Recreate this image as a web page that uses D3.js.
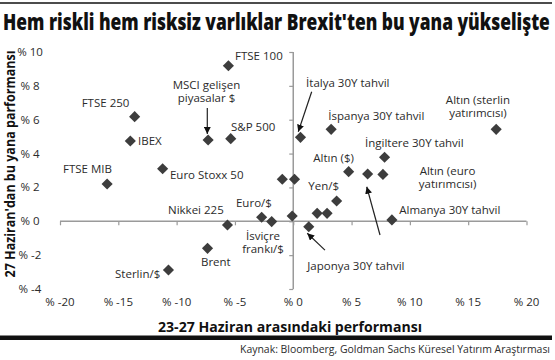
<!DOCTYPE html>
<html>
<head>
<meta charset="utf-8">
<script src="https://cdn.jsdelivr.net/npm/d3@7"></script>
<style>
  html, body { margin: 0; padding: 0; background: #fff; }
  svg { display: block; }
  text { font-family: "Open Sans", "Noto Sans", sans-serif; }
</style>
</head>
<body>
<svg id="chart" width="555" height="360"></svg>
<script>
// ---- Data ----
const names = ["FTSE 100", "FTSE 250", "IBEX", "MSCI gelişen piyasalar $", "S&P 500",
  "Euro Stoxx 50", "FTSE MIB", "İtalya 30Y tahvil", "İspanya 30Y tahvil", "Altın (sterlin yatırımcısı)",
  "İngiltere 30Y tahvil", "Altın ($)", "Altın (euro yatırımcısı)", "", "", "Yen/$", "", "", "", "",
  "Euro/$", "İsviçre frankı/$", "Japonya 30Y tahvil", "Almanya 30Y tahvil", "Nikkei 225", "Brent", "Sterlin/$"];
const xValues = [-5.56, -13.6, -13.97, -7.3, -5.36,
  -11.2, -15.96, 0.62, 3.25, 17.4,
  7.83, 4.75, 6.38, 7.69, -0.94, 0.11, 3.72, 2.05, 2.9, -0.09,
  -2.71, -1.85, 1.33, 8.46, -5.64, -7.35, -10.7];
const yValues = [9.19, 6.18, 4.74, 4.8, 4.88,
  3.1, 2.2, 4.96, 5.43, 5.43,
  3.78, 2.93, 2.79, 2.77, 2.48, 2.48, 1.2, 0.47, 0.47, 0.31,
  0.24, -0.02, -0.32, 0.08, -0.22, -1.6, -2.88];
const xTicks = [-20, -15, -10, -5, 0, 5, 10, 15, 20];
const yTicks = [-4, -2, 0, 2, 4, 6, 8, 10];
const xTickLabels = ["% -20", "% -15", "% -10", "% -5", "% 0", "% 5", "% 10", "% 15", "% 20"];
const yTickLabels = ["% -4", "% -2", "% 0", "% 2", "% 4", "% 6", "% 8", "% 10"];

// Annotation labels (one entry per text line, anchored in data units)
const labelText = ["FTSE 100", "MSCI gelişen", "piyasalar $", "FTSE 250", "IBEX", "S&P 500",
  "Euro Stoxx 50", "FTSE MIB", "İtalya 30Y tahvil", "İspanya 30Y tahvil", "Altın (sterlin", "yatırımcısı)",
  "İngiltere 30Y tahvil", "Altın ($)", "Altın (euro", "yatırımcısı)", "Yen/$", "Almanya 30Y tahvil",
  "Japonya 30Y tahvil", "Nikkei 225", "Euro/$", "İsviçre", "frankı/$", "Brent", "Sterlin/$"];
const labelX = [-4.99, -7.44, -7.44, -18.14, -13.31, -5.34,
  -10.57, -19.74, 1.10, 3.01, 15.84, 15.84,
  6.15, 1.72, 13.23, 13.23, 1.29, 9.09,
  1.20, -10.74, -4.91, -2.59, -2.59, -7.91, -15.28];
const labelY = [9.53, 7.84, 7.04, 6.77, 4.51, 5.35,
  2.50, 2.85, 7.95, 5.98, 6.94, 6.14,
  4.37, 3.52, 2.74, 1.94, 1.85, 0.43,
  -2.88, 0.41, 0.86, -1.10, -1.90, -2.64, -3.33];
const labelAnchor = ["start", "middle", "middle", "start", "start", "start",
  "start", "start", "start", "start", "middle", "middle",
  "start", "start", "middle", "middle", "start", "start",
  "start", "start", "start", "middle", "middle", "start", "start"];

// Arrows (data units): from -> to
const arrowX1 = [-7.37, 1.58, 2.72, 7.44];
const arrowY1 = [6.69, 7.65, -1.70, -0.81];
const arrowX2 = [-7.37, 0.43, 1.20, 6.30];
const arrowY2 = [5.16, 5.29, -0.71, 2.04];

const title = "Hem riskli hem risksiz varlıklar Brexit'ten bu yana yükselişte";
const xTitle = "23-27 Haziran arasındaki performansı";
const yTitle = "27 Haziran'dan bu yana parformansı";
const source = "Kaynak: Bloomberg, Goldman Sachs Küresel Yatırım Araştırması";

// ---- Drawing ----
const svg = d3.select("#chart");
const x = d3.scaleLinear().domain([-20, 20]).range([60, 526.5]);
const y = d3.scaleLinear().domain([-4, 10]).range([289, 52]);
const axisColor = "#9a9a9a";
const ink = "#2b2b2b";

// top rule
svg.append("line").attr("x1", 0).attr("x2", 552).attr("y1", 3).attr("y2", 3)
  .attr("stroke", "#111").attr("stroke-width", 1.5);

// title: fit to width, then stretch vertically to reach the reference cap height
const titleEl = svg.append("text").attr("x", 0).attr("y", 0)
  .attr("font-size", 18).attr("font-weight", 800).attr("fill", "#111")
  .text(title);
const tw = titleEl.node().getComputedTextLength();
const fs = 18 * 547 / tw;
titleEl.attr("font-size", fs)
  .attr("transform", `translate(3,30) scale(1,${(23 / fs).toFixed(3)})`);

// x axis at y=0
const xAxis = d3.axisBottom(x).tickValues(xTicks).tickSize(4).tickFormat("");
const gx = svg.append("g").attr("transform", `translate(0,${y(0)})`).call(xAxis);
gx.select(".domain").attr("stroke", axisColor).attr("stroke-width", 1.5).attr("d", `M${x(-20)},0H${x(20)}`);
gx.selectAll(".tick line").attr("stroke", axisColor).attr("stroke-width", 1.2);

// y axis at x=0
const yAxis = d3.axisLeft(y).tickValues(yTicks).tickSize(4).tickFormat("");
const gy = svg.append("g").attr("transform", `translate(${x(0)},0)`).call(yAxis);
gy.select(".domain").attr("stroke", axisColor).attr("stroke-width", 1.5).attr("d", `M0,${y(10)}V${y(-4)}`);
gy.selectAll(".tick line").attr("stroke", axisColor).attr("stroke-width", 1.2);

// tick labels (placed low / left)
svg.append("g").selectAll("text").data(xTicks).join("text")
  .attr("x", d => x(d)).attr("y", 306).attr("text-anchor", "middle")
  .attr("font-size", 11.5).attr("fill", ink)
  .text((d, i) => xTickLabels[i]);
svg.append("g").selectAll("text").data(yTicks).join("text")
  .attr("x", 30).attr("y", d => y(d) + 4).attr("text-anchor", "middle")
  .attr("font-size", 11.5).attr("fill", ink)
  .text((d, i) => yTickLabels[i]);

// axis titles
svg.append("text").attr("x", 290).attr("y", 332).attr("text-anchor", "middle")
  .attr("font-size", 13.5).attr("font-weight", 700).attr("fill", "#111")
  .attr("textLength", 264).attr("lengthAdjust", "spacingAndGlyphs")
  .text(xTitle);
svg.append("text").attr("transform", "translate(15,164) rotate(-90)").attr("text-anchor", "middle")
  .attr("font-size", 13.5).attr("font-weight", 700).attr("fill", "#111")
  .attr("textLength", 227).attr("lengthAdjust", "spacingAndGlyphs")
  .text(yTitle);

// bottom bar & source
svg.append("rect").attr("x", 0).attr("y", 335.5).attr("width", 552).attr("height", 4.5).attr("fill", "#111");
svg.append("text").attr("x", 550).attr("y", 353).attr("text-anchor", "end")
  .attr("font-size", 10).attr("fill", ink)
  .attr("textLength", 310).attr("lengthAdjust", "spacingAndGlyphs")
  .text(source);

// arrows
const defs = svg.append("defs");
defs.append("marker").attr("id", "arr").attr("viewBox", "0 0 10 10")
  .attr("refX", 10).attr("refY", 5).attr("markerWidth", 7).attr("markerHeight", 7)
  .attr("markerUnits", "userSpaceOnUse").attr("orient", "auto")
  .append("path").attr("d", "M0,0L10,5L0,10Z").attr("fill", "#111");
svg.append("g").selectAll("line").data(arrowX1).join("line")
  .attr("x1", (d, i) => x(arrowX1[i])).attr("y1", (d, i) => y(arrowY1[i]))
  .attr("x2", (d, i) => x(arrowX2[i])).attr("y2", (d, i) => y(arrowY2[i]))
  .attr("stroke", "#222").attr("stroke-width", 1.2).attr("marker-end", "url(#arr)");

// points
const sym = d3.symbol().type(d3.symbolSquare).size(62);
svg.append("g").selectAll("path").data(xValues).join("path")
  .attr("d", sym)
  .attr("transform", (d, i) => `translate(${x(xValues[i])},${y(yValues[i])}) rotate(45)`)
  .attr("fill", "#3d3d3d")
  .append("title").text((d, i) => names[i]);

// labels
svg.append("g").selectAll("text").data(labelText).join("text")
  .attr("x", (d, i) => x(labelX[i])).attr("y", (d, i) => y(labelY[i]))
  .attr("text-anchor", (d, i) => labelAnchor[i])
  .attr("font-size", 11.5).attr("fill", ink)
  .text(d => d);
</script>
</body>
</html>
